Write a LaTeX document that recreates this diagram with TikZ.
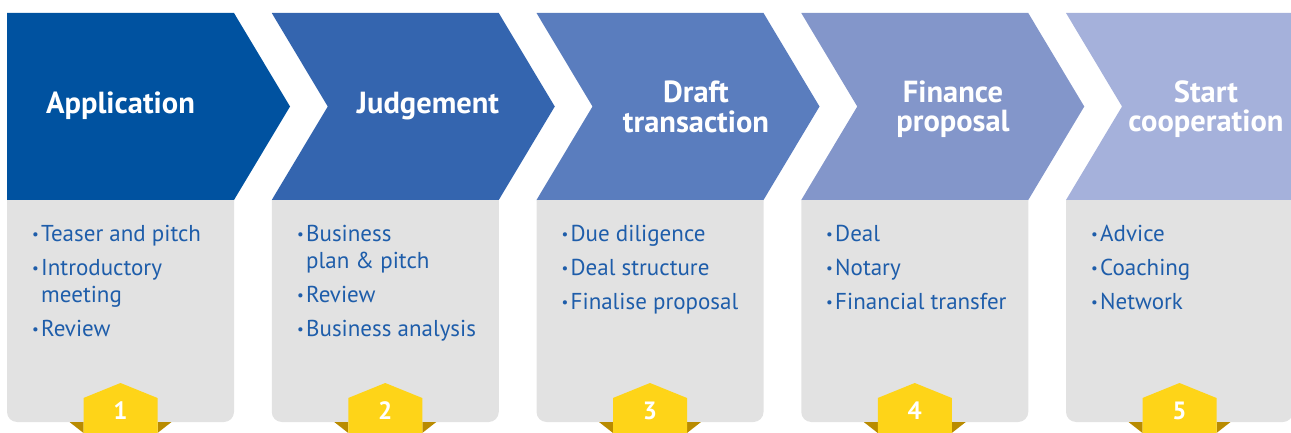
\documentclass[tikz,border=0pt]{standalone}
\usepackage{fontspec}
\setmainfont{PT Sans}
\definecolor{cA}{HTML}{0052A0}
\definecolor{cB}{HTML}{3465AF}
\definecolor{cC}{HTML}{5A7DBE}
\definecolor{cD}{HTML}{8396CA}
\definecolor{cE}{HTML}{A5B1DB}
\definecolor{txtblue}{HTML}{1E5DAA}
\definecolor{boxgrey}{HTML}{E2E2E2}
\definecolor{badgeY}{HTML}{FED418}
\definecolor{badgeD}{HTML}{B98B00}
\newcommand\bul{\makebox[9pt][l]{\raisebox{1.5pt}{\fontsize{15}{15}\selectfont •}}}
\tikzset{
  head/.style={text=white, font=\fontsize{30.5}{29.5}\selectfont\bfseries, align=center, inner sep=0pt},
  item/.style={text=txtblue, font=\fontsize{23}{27}\selectfont, align=left, inner sep=0pt, anchor=base west},
  num/.style={text=white, font=\fontsize{25}{25}\selectfont\bfseries, inner sep=0pt, anchor=base},
}
\begin{document}
\begin{tikzpicture}[x=1pt,y=-1pt]
\useasboundingbox (0,0) rectangle (1291,433);
\clip (0,0) rectangle (1291,433);
% chevrons
\fill[cA] (7,13) -- (234,13) -- (290,106.5) -- (234,200) -- (7,200) -- cycle;
\foreach \i/\c in {1/cB,2/cC,3/cD,4/cE}{
  \pgfmathsetmacro\xo{7+264.75*\i}
  \fill[\c] (\xo,13) -- (\xo+227,13) -- (\xo+283,106.5) -- (\xo+227,200) -- (\xo,200) -- (\xo+56,106.5) -- cycle;
}
% grey boxes and badges
\foreach \i in {0,...,4}{
  \pgfmathsetmacro\xo{7+264.75*\i}
  \pgfmathsetmacro\cx{\xo+113.5}
  \fill[boxgrey] (\xo,200) -- (\xo+227,200) -- (\xo+227,412) arc[start angle=0,end angle=90,radius=10] -- (\xo+10,422) arc[start angle=90,end angle=180,radius=10] -- cycle;
  \fill[badgeD] (\cx-51,422) -- (\cx-37,422) -- (\cx-37,433) -- cycle;
  \fill[badgeD] (\cx+51,422) -- (\cx+37,422) -- (\cx+37,433) -- cycle;
  \fill[badgeY] (\cx-37,434) -- (\cx-37,398) -- (\cx,383) -- (\cx+37,398) -- (\cx+37,434) -- cycle;
}
% headers
\node[head, anchor=base] (h1) at (120.5,114) {Application};
\node[head, anchor=base] (h2) at (428,114) {Judgement};
\node[head] (h3) at (696,107) {Draft\\transaction};
\node[head] (h4) at (953,109) {Finance\\proposal};
\node[head] (h5) at (1206,109) {Start\\cooperation};
% numbers
\node[num] (n1) at (120.5,419) {1};
\node[num] (n2) at (385.25,419) {2};
\node[num] (n3) at (650,419) {3};
\node[num] (n4) at (914.75,419) {4};
\node[num] (n5) at (1179.5,419) {5};
% items column 1
\node[item] (a1) at (32,241) {\bul Teaser and pitch};
\node[item] (a2) at (32,275) {\bul Introductory};
\node[item] (a2b) at (41,302) {meeting};
\node[item] (a3) at (32,336) {\bul Review};
% column 2
\node[item] (b1) at (297,241) {\bul Business};
\node[item] (b1b) at (306,268) {plan \& pitch};
\node[item] (b2) at (297,302) {\bul Review};
\node[item] (b3) at (297,336) {\bul Business analysis};
% column 3
\node[item] (c1) at (561.5,241) {\bul Due diligence};
\node[item] (c2) at (561.5,275) {\bul Deal structure};
\node[item] (c3) at (561.5,309) {\bul Finalise proposal};
% column 4
\node[item] (d1) at (826,241) {\bul Deal};
\node[item] (d2) at (826,275) {\bul Notary};
\node[item] (d3) at (826,309) {\bul Financial transfer};
% column 5
\node[item] (e1) at (1091,241) {\bul Advice};
\node[item] (e2) at (1091,275) {\bul Coaching};
\node[item] (e3) at (1091,309) {\bul Network};
\end{tikzpicture}
\end{document}
